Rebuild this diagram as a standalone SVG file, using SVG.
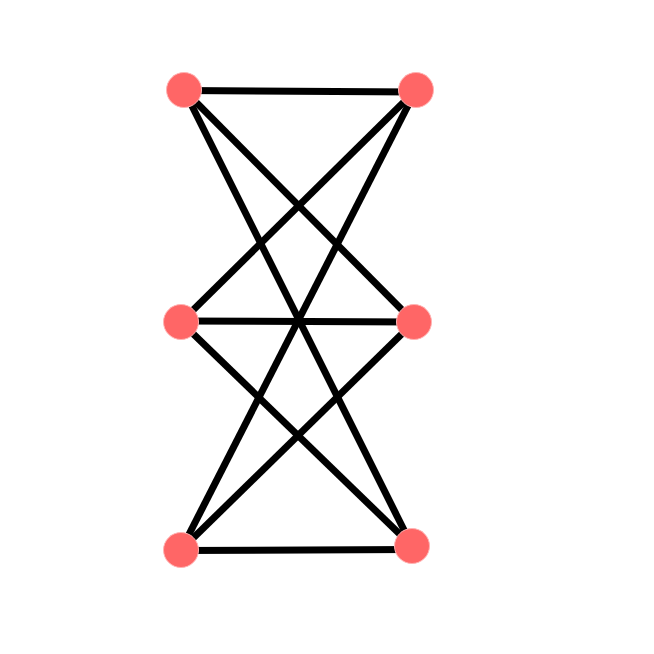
<svg xmlns="http://www.w3.org/2000/svg" width="654" height="654" viewBox="0 0 654 654">
<style>
.edge{stroke:#000;stroke-width:7;stroke-linecap:butt;fill:none}
.node{fill:#ff6666;stroke:#ffb3b3;stroke-width:1}
</style>
<rect width="654" height="654" fill="#fff"/>
<g id="edges">
<line class="edge" x1="184" y1="90.5" x2="416" y2="92"/>
<line class="edge" x1="184" y1="90" x2="414" y2="322"/>
<line class="edge" x1="184" y1="90" x2="412" y2="546"/>
<line class="edge" x1="181" y1="322" x2="416" y2="90"/>
<line class="edge" x1="181" y1="321" x2="414" y2="322"/>
<line class="edge" x1="181" y1="322" x2="412" y2="546"/>
<line class="edge" x1="181" y1="550" x2="416" y2="90"/>
<line class="edge" x1="181" y1="550" x2="414" y2="322"/>
<line class="edge" x1="181" y1="550.5" x2="412" y2="549.5"/>
</g>
<g id="n1"><circle class="node" cx="184" cy="90" r="17.5"/></g>
<g id="n2"><circle class="node" cx="416" cy="90" r="17.5"/></g>
<g id="n3"><circle class="node" cx="181" cy="322" r="17.5"/></g>
<g id="n4"><circle class="node" cx="414" cy="322" r="17.5"/></g>
<g id="n5"><circle class="node" cx="181" cy="550" r="17.5"/></g>
<g id="n6"><circle class="node" cx="412" cy="546" r="17.5"/></g>
</svg>
